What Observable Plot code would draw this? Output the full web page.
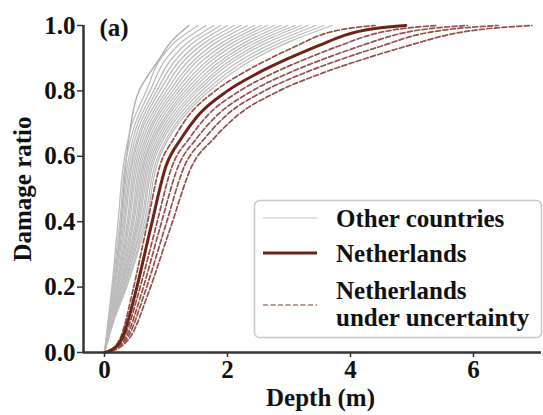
<!DOCTYPE html>
<html>
<head>
<meta charset="utf-8">
<script src="https://cdn.jsdelivr.net/npm/d3@7"></script>
<script src="https://cdn.jsdelivr.net/npm/@observablehq/plot@0.6"></script>
<style>
  html, body { margin: 0; padding: 0; background: #fff; }
  #wrap { position: relative; width: 543px; height: 415px; font-family: "Liberation Serif", "DejaVu Serif", serif; }
  #wrap svg text { font-family: "Liberation Serif", "DejaVu Serif", serif !important; }
  #legend { position: absolute; left: 0; top: 0; pointer-events: none; }
</style>
</head>
<body>
<div id="wrap"></div>
<script>
// ---- data ----
// Other countries: depth (m) at which each curve reaches these damage ratios
const grayLevels = [0, 0.1, 0.2, 0.4, 0.6, 0.7, 0.8, 0.9, 0.95, 1.0];
const otherCountries = [
  [0, 0.09, 0.15, 0.27, 0.36, 0.43, 0.56, 0.90, 1.08, 1.37],
  [0, 0.06, 0.12, 0.22, 0.33, 0.45, 0.68, 0.92, 1.15, 1.52],
  [0, 0.07, 0.13, 0.25, 0.36, 0.50, 0.74, 1.01, 1.26, 1.65],
  [0, 0.07, 0.15, 0.28, 0.40, 0.54, 0.80, 1.10, 1.37, 1.78],
  [0, 0.08, 0.16, 0.30, 0.43, 0.58, 0.85, 1.18, 1.46, 1.89],
  [0, 0.08, 0.17, 0.32, 0.46, 0.62, 0.90, 1.26, 1.56, 2.00],
  [0, 0.09, 0.19, 0.34, 0.48, 0.65, 0.96, 1.33, 1.65, 2.11],
  [0, 0.09, 0.20, 0.37, 0.51, 0.69, 1.01, 1.41, 1.74, 2.22],
  [0, 0.10, 0.21, 0.39, 0.54, 0.73, 1.06, 1.49, 1.83, 2.33],
  [0, 0.10, 0.22, 0.41, 0.57, 0.77, 1.11, 1.56, 1.93, 2.44],
  [0, 0.11, 0.23, 0.44, 0.60, 0.80, 1.16, 1.64, 2.02, 2.55],
  [0, 0.11, 0.25, 0.46, 0.63, 0.84, 1.21, 1.72, 2.11, 2.65],
  [0, 0.12, 0.26, 0.48, 0.66, 0.88, 1.26, 1.79, 2.20, 2.76],
  [0, 0.12, 0.27, 0.51, 0.68, 0.92, 1.31, 1.87, 2.30, 2.87],
  [0, 0.13, 0.28, 0.53, 0.71, 0.95, 1.36, 1.95, 2.39, 2.98],
  [0, 0.13, 0.29, 0.55, 0.74, 0.99, 1.41, 2.02, 2.48, 3.09],
  [0, 0.14, 0.31, 0.57, 0.77, 1.03, 1.47, 2.10, 2.57, 3.20],
  [0, 0.14, 0.32, 0.60, 0.80, 1.07, 1.52, 2.17, 2.67, 3.31],
  [0, 0.15, 0.33, 0.62, 0.83, 1.11, 1.58, 2.27, 2.78, 3.44],
  [0, 0.15, 0.35, 0.65, 0.87, 1.16, 1.64, 2.36, 2.89, 3.57],
  [0, 0.16, 0.36, 0.68, 0.90, 1.20, 1.70, 2.45, 3.00, 3.70]
];

// Netherlands
const nlRatio = [0, 0.02, 0.05, 0.18, 0.38, 0.57, 0.655, 0.72, 0.80, 0.855, 0.90, 0.94, 0.97, 1.0];
const nlDepth = [0, 0.20, 0.30, 0.50, 0.75, 1.00, 1.25, 1.50, 2.00, 2.50, 3.00, 3.50, 3.90, 4.90];

// Netherlands under uncertainty (depths at the same ratios)
const nlUncertain = [
  [0, 0.18, 0.27, 0.45, 0.68, 0.90, 1.13, 1.35, 1.80, 2.25, 2.70, 3.15, 3.50, 4.40],
  [0, 0.22, 0.33, 0.55, 0.83, 1.10, 1.38, 1.65, 2.20, 2.75, 3.30, 3.85, 4.30, 5.40],
  [0, 0.24, 0.36, 0.60, 0.90, 1.20, 1.50, 1.80, 2.40, 3.00, 3.60, 4.20, 4.70, 5.90],
  [0, 0.26, 0.39, 0.65, 0.98, 1.30, 1.63, 1.95, 2.60, 3.25, 3.90, 4.55, 5.05, 6.40],
  [0, 0.28, 0.43, 0.71, 1.07, 1.42, 1.78, 2.13, 2.84, 3.55, 4.26, 4.97, 5.55, 6.95]
];

const xTicks = [0, 2, 4, 6];
const yTicks = [0, 0.2, 0.4, 0.6, 0.8, 1.0];
const xDomain = [-0.3415, 7.106];
const yDomain = [0, 1];

// ---- build tables ----
const grayRows = otherCountries.flatMap((c, i) => c.map((d, j) => ({id: i, depth: d, ratio: grayLevels[j]})));
const nlRows = nlDepth.map((d, j) => ({depth: d, ratio: nlRatio[j]}));
const unRows = nlUncertain.flatMap((c, i) => c.map((d, j) => ({id: i, depth: d, ratio: nlRatio[j]})));

const FONT = '"Liberation Serif", "DejaVu Serif", serif';
const FS = 25;
const NL_COLOR = "#6b2416";
const UN_COLOR = "#94504a";

const chart = Plot.plot({
  width: 543,
  height: 415,
  marginLeft: 83,
  marginRight: 2,
  marginTop: 25,
  marginBottom: 63,
  style: {fontFamily: FONT, fontWeight: "bold", fontSize: FS + "px", color: "#111", background: "#fff"},
  x: {domain: xDomain},
  y: {domain: yDomain},
  marks: [
    Plot.line(grayRows, {x: "depth", y: "ratio", z: "id", stroke: (d) => d.id === 0 ? "#a8a8a8" : "#bcbcbc",
      strokeWidth: 1.3, curve: "monotone-y"}),
    Plot.line(unRows, {x: "depth", y: "ratio", z: "id", stroke: UN_COLOR, strokeWidth: 1.7, strokeDasharray: "5,2.5", curve: "monotone-x"}),
    Plot.line(nlRows, {x: "depth", y: "ratio", stroke: NL_COLOR, strokeWidth: 3, curve: "monotone-x"}),
    Plot.axisX({ticks: xTicks, tickSize: 5, tickPadding: 3, tickFormat: (d) => String(d), label: null, stroke: "#333", strokeWidth: 1.5}),
    Plot.axisY({ticks: yTicks, tickSize: 6, tickPadding: 2, tickFormat: d3.format(".1f"), label: null, stroke: "#333", strokeWidth: 1.5}),
    Plot.ruleY([yDomain[0]], {stroke: "#333", strokeWidth: 2.5}),
    Plot.ruleX([xDomain[0]], {stroke: "#333", strokeWidth: 2.5}),
    Plot.text(["(a)"], {frameAnchor: "top-left", dx: 16, dy: 2, lineAnchor: "middle", text: (d) => d, fontSize: FS, fontWeight: "bold"}),
    Plot.text(["Depth (m)"], {frameAnchor: "bottom", dx: 8, dy: 45, lineAnchor: "middle", textAnchor: "middle", text: (d) => d, fontSize: FS, fontWeight: "bold"}),
    Plot.text(["Damage ratio"], {frameAnchor: "left", dx: -61, rotate: -90, lineAnchor: "middle", textAnchor: "middle", text: (d) => d, fontSize: FS, fontWeight: "bold"})
  ]
});

const wrap = document.getElementById("wrap");
wrap.appendChild(chart);

// ---- legend overlay ----
const legendEntries = [
  {label: ["Other countries"], stroke: "#c4c4c4", width: 1.2, dash: null, y: 218, ty: [218]},
  {label: ["Netherlands"], stroke: NL_COLOR, width: 3, dash: null, y: 253, ty: [253]},
  {label: ["Netherlands", "under uncertainty"], stroke: "#b07a70", width: 1.6, dash: "5,2.5", y: 305, ty: [290, 317]}
];
const svg = d3.select(wrap).append("svg")
  .attr("id", "legend").attr("width", 543).attr("height", 415);
svg.append("rect").attr("x", 254.5).attr("y", 200.5).attr("width", 287).attr("height", 137)
  .attr("rx", 5).attr("fill", "rgba(255,255,255,0.9)").attr("stroke", "#c8c8c8").attr("stroke-width", 1.5);
for (const e of legendEntries) {
  svg.append("line").attr("x1", 263).attr("x2", 317).attr("y1", e.y).attr("y2", e.y)
    .attr("stroke", e.stroke).attr("stroke-width", e.width).attr("stroke-dasharray", e.dash);
  e.label.forEach((t, i) => {
    svg.append("text").attr("x", 336).attr("y", e.ty[i]).attr("dy", "0.35em")
      .style("font-family", FONT).attr("font-weight", "bold").attr("font-size", FS).attr("fill", "#111")
      .text(t);
  });
}
</script>
</body>
</html>
